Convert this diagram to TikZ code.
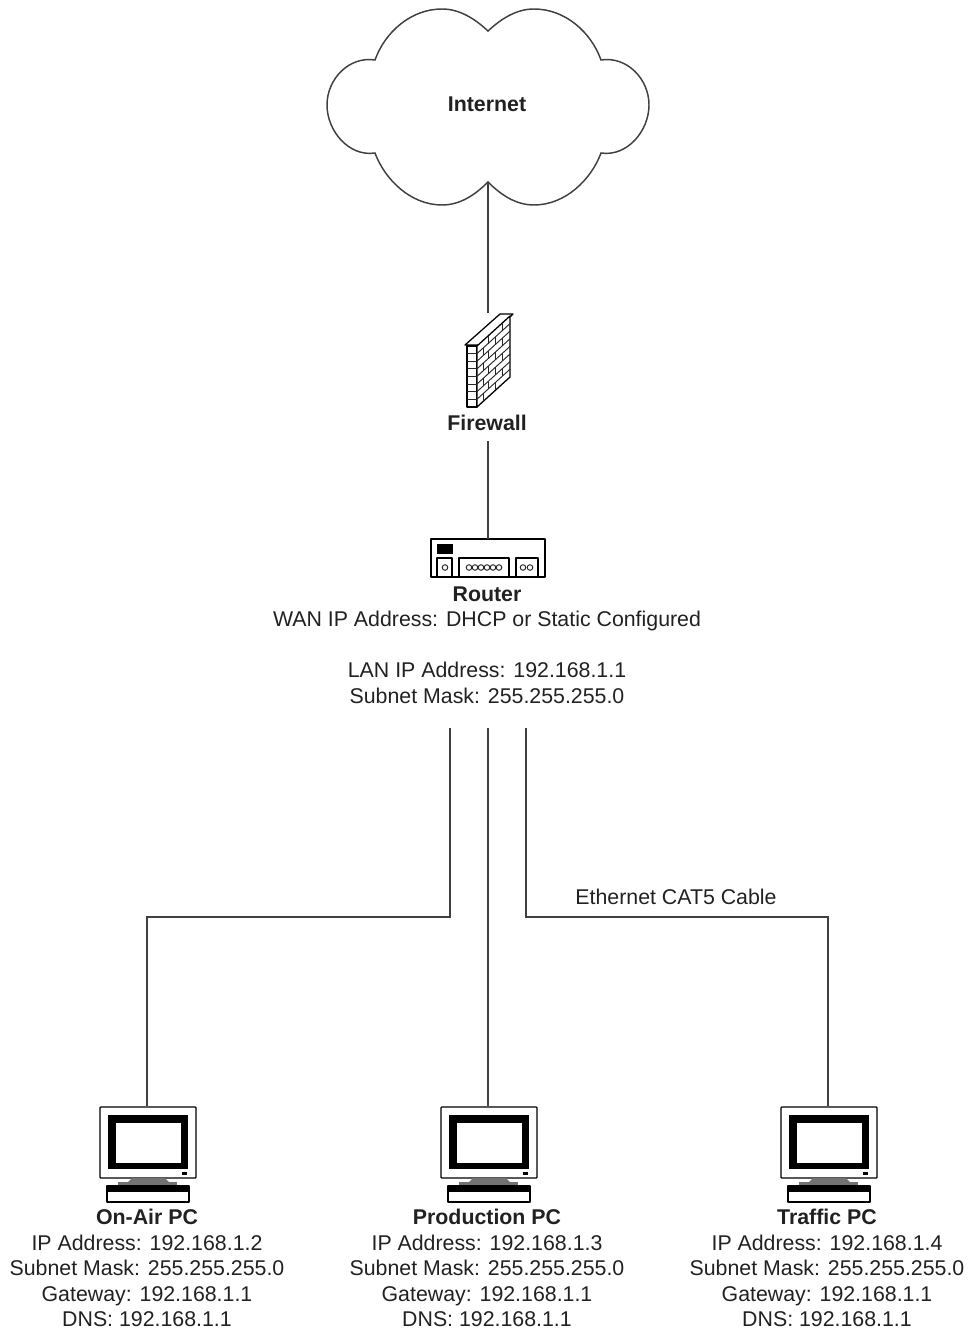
\documentclass[tikz,border=0pt]{standalone}
\usepackage{fontspec}
\setmainfont{Liberation Sans}
\usepackage{tikz}
\usetikzlibrary{positioning,calc}
\definecolor{wire}{gray}{0.25}
\definecolor{inktext}{gray}{0.13}

\tikzset{
    pcicon/.pic={
        \coordinate (-top) at (0,0);
        % monitor
        \draw[icon,fill=white,rounded corners=0.6pt] (-47,1) rectangle (49,72);
        \fill[black] (-39,9) rectangle (41,63);
        \fill[white] (-31,17) rectangle (34,57);
        \fill[black] (35,66) rectangle (40,69);
        % stand and keyboard
        \fill[black!55] (-15,72) -- (18,72) -- (22,76) -- (-19,76) -- cycle;
        \fill[black!55] (-29,76) rectangle (30,80);
        \draw[icon,fill=white] (-40,80) rectangle (42,96);
        \fill[black] (-40,80) rectangle (42,86);
    },
    wallicon/.pic={
        \coordinate (-top) at (0,0);
        \draw[icon,fill=white] (-23,32) -- (12,1) -- (25,1) -- (-8,32) -- cycle;
        \draw[icon,fill=white] (-21,33) rectangle (-11,94);
        \draw[icon,fill=white] (-11,33) -- (22,3) -- (22,64) -- (-11,94) -- cycle;
        % bricks
        \foreach \row in {1,...,7} {
            \draw[brick] (-21,33+\row*7.6) -- (-11,33+\row*7.6);
            \draw[brick] (-11,33+\row*7.6) -- (22,3+\row*7.6);
        }
        \foreach \row in {0,2,4,6} {
            \draw[brick] (0,23+\row*7.6) -- (0,30.6+\row*7.6);
            \draw[brick] (14,10+\row*7.6) -- (14,17.6+\row*7.6);
        }
        \foreach \row in {1,3,5,7} {
            \draw[brick] (-5,27+\row*7.6) -- (-5,34.6+\row*7.6);
            \draw[brick] (7,16+\row*7.6) -- (7,23.6+\row*7.6);
        }
    },
    routericon/.pic={
        \coordinate (-top) at (0,0);
        \draw[icon,fill=white] (-57,0) rectangle (57,38);
        \fill[black] (-51,5) rectangle (-35,15);
        \draw[icon] (-51,38) -- (-51,19) -- (-36,19) -- (-36,38);
        \draw[icon] (-29,38) -- (-29,19) -- (21,19) -- (21,38);
        \draw[icon] (28,38) -- (28,19) -- (50,19) -- (50,38);
        \draw[brick] (-43,28.5) circle (2.8);
        \foreach \dot in {0,...,5} {
            \draw[brick] (-19+\dot*6,28.5) circle (2.8);
        }
        \draw[brick] (35,28.5) circle (2.8);
        \draw[brick] (42,28.5) circle (2.8);
    }
}

\begin{document}
\begin{tikzpicture}[
    x=0.75pt,
    y=-0.75pt,
    icon/.style={draw=black,line width=0.95pt,line join=round},
    brick/.style={draw=black!85,line width=0.7pt},
    cable/.style={draw=wire,line width=1.1pt},
    info/.style={
        align=center,
        inner sep=0pt,
        text=inktext,
        font=\fontsize{16}{19.1}\selectfont
    }
]
\useasboundingbox (0,0) rectangle (967,1330);

% internet cloud
\draw[cable,fill=white] (488,31)
    .. controls (475,19) and (460,9) .. (442,9)
    .. controls (411,9) and (385,32) .. (375,60)
    .. controls (349,56) and (327,79) .. (327,105)
    .. controls (327,131) and (349,157) .. (375,153)
    .. controls (385,180) and (411,205) .. (442,205)
    .. controls (460,205) and (475,195) .. (488,182)
    .. controls (501,195) and (516,205) .. (534,205)
    .. controls (565,205) and (591,180) .. (601,153)
    .. controls (627,157) and (649,131) .. (649,105)
    .. controls (649,79) and (627,56) .. (601,60)
    .. controls (591,32) and (565,9) .. (534,9)
    .. controls (516,9) and (501,19) .. (488,31) -- cycle;
\coordinate (cloudbase) at (488,182);
\node[info] (internet) at (487,104) {\textbf{Internet}};

% firewall and router
\pic (wall) at (488,313) {wallicon};
\node[info] (firewall) at (487,423) {\textbf{Firewall}};
\coordinate (firewallbase) at (488,441);
\pic (box) at (488,539) {routericon};
\node[info] (router) at (487,645) {\textbf{Router}\\
WAN IP Address: DHCP or Static Configured\\
\strut\\
LAN IP Address: 192.168.1.1\\
Subnet Mask: 255.255.255.0};
\coordinate (lanleft) at (450,728);
\coordinate (lanmid) at (488,728);
\coordinate (lanright) at (526,728);

% the three PCs
\pic (onairpc) at (147,1106) {pcicon};
\pic (productionpc) at (488,1106) {pcicon};
\pic (trafficpc) at (828,1106) {pcicon};

\node[info] (onair) at (147,1268) {\textbf{On-Air PC}\\
IP Address: 192.168.1.2\\
Subnet Mask: 255.255.255.0\\
Gateway: 192.168.1.1\\
DNS: 192.168.1.1};
\node[info] (production) at (487,1268) {\textbf{Production PC}\\
IP Address: 192.168.1.3\\
Subnet Mask: 255.255.255.0\\
Gateway: 192.168.1.1\\
DNS: 192.168.1.1};
\node[info] (traffic) at (827,1268) {\textbf{Traffic PC}\\
IP Address: 192.168.1.4\\
Subnet Mask: 255.255.255.0\\
Gateway: 192.168.1.1\\
DNS: 192.168.1.1};

\node[info] (cablenote) at (676,897) {Ethernet CAT5 Cable};

% cables
\draw[cable] (cloudbase) -- (wall-top);
\draw[cable] (firewallbase) -- (box-top);
\draw[cable] (lanleft) -- ++(0,189) -| (onairpc-top);
\draw[cable] (lanmid) -- (productionpc-top);
\draw[cable] (lanright) -- ++(0,189) -| (trafficpc-top);

\end{tikzpicture}
\end{document}
